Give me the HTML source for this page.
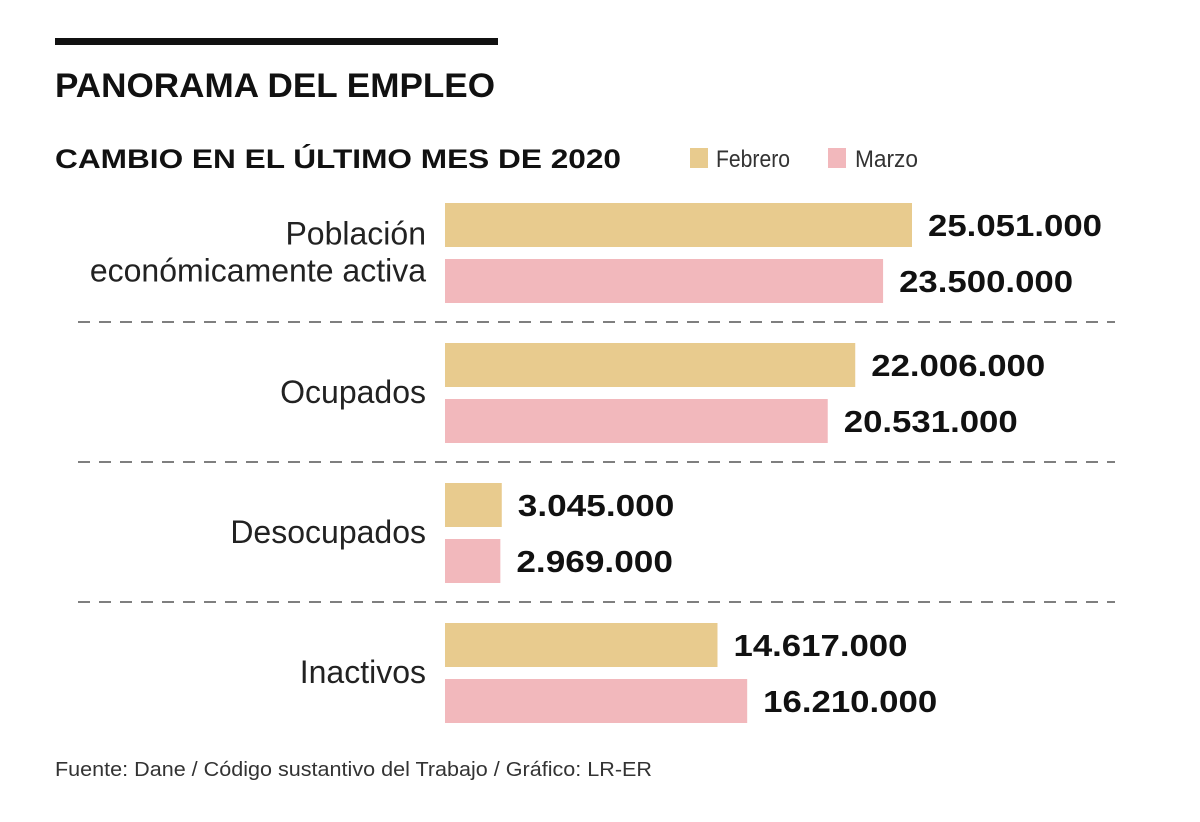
<!DOCTYPE html>
<html><head><meta charset="utf-8"><style>
body{margin:0;background:#fff;width:1200px;height:817px;overflow:hidden;font-family:"Liberation Sans",sans-serif;}
svg text{font-family:"Liberation Sans",sans-serif;}
</style></head><body>
<svg id="chart" width="1200" height="817" xmlns="http://www.w3.org/2000/svg">
<rect x="55" y="38" width="443" height="7" fill="#111"/>
<text x="55" y="97" font-size="34" font-weight="bold" fill="#111" textLength="440" lengthAdjust="spacingAndGlyphs">PANORAMA DEL EMPLEO</text>
<text x="55" y="168" font-size="27" font-weight="bold" fill="#111" textLength="566" lengthAdjust="spacingAndGlyphs">CAMBIO EN EL ÚLTIMO MES DE 2020</text>
<rect x="690" y="148" width="18" height="20" fill="#e8cb8e"/>
<text x="716" y="167" font-size="24" fill="#333" textLength="74" lengthAdjust="spacingAndGlyphs">Febrero</text>
<rect x="828" y="148" width="18" height="20" fill="#f2b8bc"/>
<text x="855" y="167" font-size="24" fill="#333" textLength="63" lengthAdjust="spacingAndGlyphs">Marzo</text>
<g id="bars"></g>
<text x="55" y="776" font-size="20" fill="#333" textLength="597" lengthAdjust="spacingAndGlyphs">Fuente: Dane / Código sustantivo del Trabajo / Gráfico: LR-ER</text>
</svg>
<script>
const categories=[["Población","económicamente activa"],["Ocupados"],["Desocupados"],["Inactivos"]];
const febrero=[25051000,22006000,3045000,14617000];
const marzo=[23500000,20531000,2969000,16210000];
const valueLabels=[["25.051.000","23.500.000"],["22.006.000","20.531.000"],["3.045.000","2.969.000"],["14.617.000","16.210.000"]];
const NS="http://www.w3.org/2000/svg";
const g=document.getElementById('bars');
const x0=445, pxPerUnit=467/25051000;
const xs=v=>v*pxPerUnit;
const yGroup=i=>203+i*140;
function mk(t,a){const e=document.createElementNS(NS,t);for(const k in a)e.setAttribute(k,a[k]);g.appendChild(e);return e;}
categories.forEach((c,i)=>{
  const y=yGroup(i);
  [[febrero,'#e8cb8e','febrero',0],[marzo,'#f2b8bc','marzo',1]].forEach(([arr,col,nm,j])=>{
    const w=xs(arr[i]);const by=y+j*56;
    const r=mk('rect',{x:x0,y:by,width:w,height:44,fill:col});
    
    
    const s=valueLabels[i][j];
    const t=mk('text',{x:x0+w+16,y:by+33,'font-size':31,'font-weight':'bold',fill:'#111',textLength:s.length*17.4,lengthAdjust:'spacingAndGlyphs'});
    t.textContent=s;
    
    
  });
  const mid=y+50;
  c.forEach((line,k)=>{
    const t=mk('text',{x:426,y:mid+10+(k-(c.length-1)/2)*37,'font-size':32,fill:'#222','text-anchor':'end'});
    t.textContent=line;
    
    
  });
  if(i<categories.length-1){
    const l=mk('line',{x1:78,x2:1115,y1:y+119,y2:y+119,stroke:'#555','stroke-width':1.5,'stroke-dasharray':'12,9'});
    
    
  }
});
</script>
</body></html>
